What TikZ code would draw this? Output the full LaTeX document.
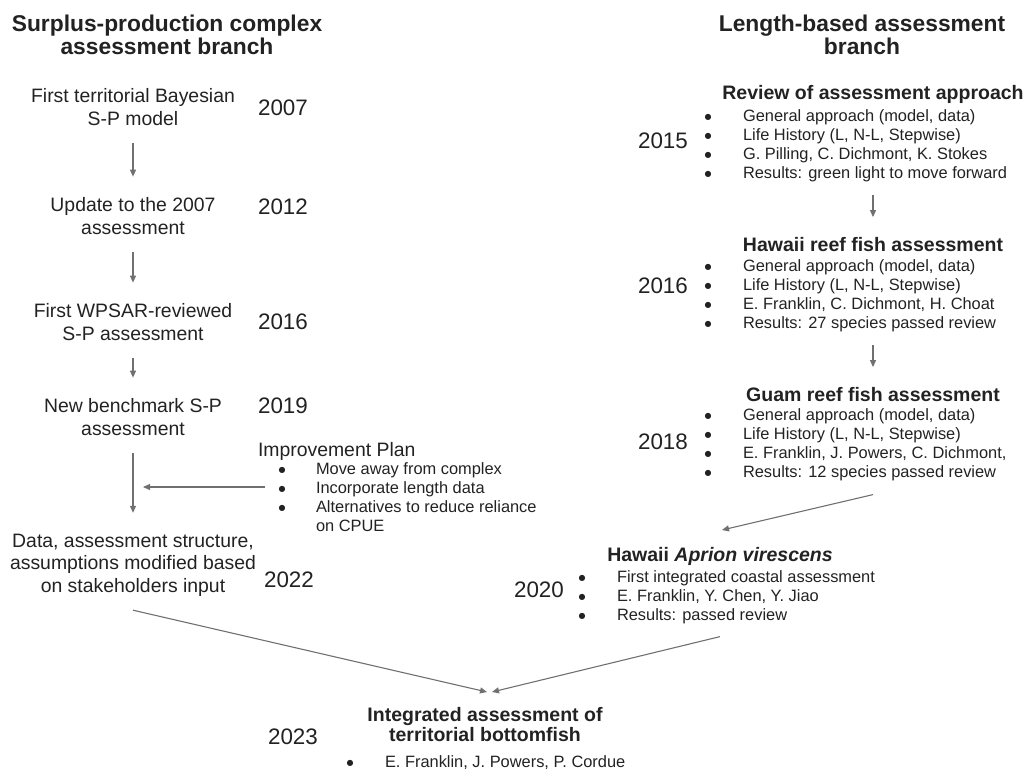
\documentclass[tikz,border=0pt]{standalone}
\usepackage{fontspec}
\setmainfont{Liberation Sans}
\newfontfamily\symfont{DejaVu Sans}
\usetikzlibrary{arrows.meta}

\definecolor{inkgray}{HTML}{222222}
\definecolor{arrowgray}{HTML}{707070}

% round bullet of fixed width for the bullet lists
\newcommand{\bdot}{\makebox[6pt]{\raisebox{2.6pt}{\symfont\fontsize{8}{8}\selectfont ●}}}

\begin{document}
\begin{tikzpicture}[x=1pt, y=-1pt,
  every node/.style={inner sep=0pt, outer sep=0pt, text=inkgray},
  branch/.style={font=\fontsize{22.8}{23}\selectfont\bfseries, align=center},
  sptext/.style={font=\fontsize{19.4}{22.5}\selectfont, align=center},
  yearlbl/.style={font=\fontsize{22.4}{24}\selectfont},
  lbhead/.style={font=\fontsize{19.5}{20}\selectfont\bfseries, anchor=base},
  bulletlist/.style={font=\fontsize{16.4}{19}\selectfont, anchor=north west},
  flow/.style={draw=arrowgray, line width=1.1pt, -{Triangle[length=7pt,width=6pt]}},
  downflow/.style={flow, shorten <=18pt, shorten >=21pt},
  lbflow/.style={flow, shorten <=10.4pt, shorten >=19.8pt}]

  \useasboundingbox (0,0) rectangle (1026,772);

  % Surplus-production branch (left column)
  \node[branch] (spbranch) at (167,35) {Surplus-production complex\\assessment branch};

  \node[sptext] (sp07) at (133,107) {First territorial Bayesian\\S-P model};
  \node[yearlbl] (y07) at (283,108) {2007};

  \node[sptext] (sp12) at (133,216) {Update to the 2007\\assessment};
  \node[yearlbl] (y12) at (283,207) {2012};

  \node[sptext] (sp16) at (133,322) {First WPSAR-reviewed\\S-P assessment};
  \node[yearlbl] (y16) at (283,322) {2016};

  \node[sptext] (sp19) at (133,417) {New benchmark S-P\\assessment};
  \node[yearlbl] (y19) at (283,406) {2019};

  \node[anchor=base west, font=\fontsize{19.4}{22}\selectfont] (plan) at (258,456) {Improvement Plan};
  \node[bulletlist] (planlist) at (279,461.6) {\begin{tabular}{@{}l@{\hspace{31pt}}l@{}}
    \bdot & Move away from complex\\
    \bdot & Incorporate length data\\
    \bdot & Alternatives to reduce reliance\\
          & on CPUE
  \end{tabular}};

  \node[sptext] (sp22) at (133,565) {Data, assessment structure,\\assumptions modified based\\on stakeholders input};
  \node[yearlbl] (y22) at (289,580) {2022};

  \draw[downflow] (sp07) -- (sp12);
  \draw[downflow] (sp12) -- (sp16);
  \draw[downflow] (sp16) -- (sp19);
  \draw[downflow] (sp19) -- (sp22);

  \coordinate (planmeet) at (143,487);
  \draw[flow, shorten <=14pt] (planmeet -| planlist.west) -- (planmeet);

  % Length-based branch (right column)
  \node[branch] (lbbranch) at (862,35) {Length-based assessment\\branch};

  \node[lbhead] (review) at (873,99) {Review of assessment approach};
  \node[bulletlist] (reviewlist) at (705,108.6) {\begin{tabular}{@{}l@{\hspace{32pt}}l@{}}
    \bdot & General approach (model, data)\\
    \bdot & Life History (L, N-L, Stepwise)\\
    \bdot & G. Pilling, C. Dichmont, K. Stokes\\
    \bdot & Results: green light to move forward
  \end{tabular}};
  \node[yearlbl] (y15) at (663,141) {2015};

  \node[lbhead] (hawaii) at (873,251) {Hawaii reef fish assessment};
  \node[bulletlist] (hawaiilist) at (705,258.6) {\begin{tabular}{@{}l@{\hspace{32pt}}l@{}}
    \bdot & General approach (model, data)\\
    \bdot & Life History (L, N-L, Stepwise)\\
    \bdot & E. Franklin, C. Dichmont, H. Choat\\
    \bdot & Results: 27 species passed review
  \end{tabular}};
  \node[yearlbl] (y16r) at (663,286) {2016};

  \node[lbhead] (guam) at (873,401) {Guam reef fish assessment};
  \node[bulletlist] (guamlist) at (705,407.6) {\begin{tabular}{@{}l@{\hspace{32pt}}l@{}}
    \bdot & General approach (model, data)\\
    \bdot & Life History (L, N-L, Stepwise)\\
    \bdot & E. Franklin, J. Powers, C. Dichmont,\\
    \bdot & Results: 12 species passed review
  \end{tabular}};
  \node[yearlbl] (y18) at (663,442) {2018};

  \node[lbhead] (aprion) at (720,561) {Hawaii \textit{Aprion virescens}};
  \node[bulletlist] (aprionlist) at (579,569.6) {\begin{tabular}{@{}l@{\hspace{32pt}}l@{}}
    \bdot & First integrated coastal assessment\\
    \bdot & E. Franklin, Y. Chen, Y. Jiao\\
    \bdot & Results: passed review
  \end{tabular}};
  \node[yearlbl] (y20) at (539,590) {2020};

  \draw[lbflow] (reviewlist.south -| review) -- (hawaii.north);
  \draw[lbflow] (hawaiilist.south -| hawaii) -- (guam.north);

  \coordinate (aprionin) at (722,530);
  \draw[flow] (guamlist.south -| guam) ++(0,11) -- (aprionin);

  % Integrated assessment (bottom)
  \node[lbhead, anchor=center, align=center] (final) at (485,725) {Integrated assessment of\\territorial bottomfish};
  \node[bulletlist] (finallist) at (347,754.6) {\begin{tabular}{@{}l@{\hspace{32pt}}l@{}}
    \bdot & E. Franklin, J. Powers, P. Cordue
  \end{tabular}};
  \node[yearlbl] (y23) at (293,737) {2023};

  \coordinate (meetl) at (487,692);
  \coordinate (meetr) at (492,692);
  \draw[flow] (sp22.south) ++(0,14) -- (meetl);
  \draw[flow] (aprionlist.south -| aprion) ++(0,10) -- (meetr);

\end{tikzpicture}
\end{document}
